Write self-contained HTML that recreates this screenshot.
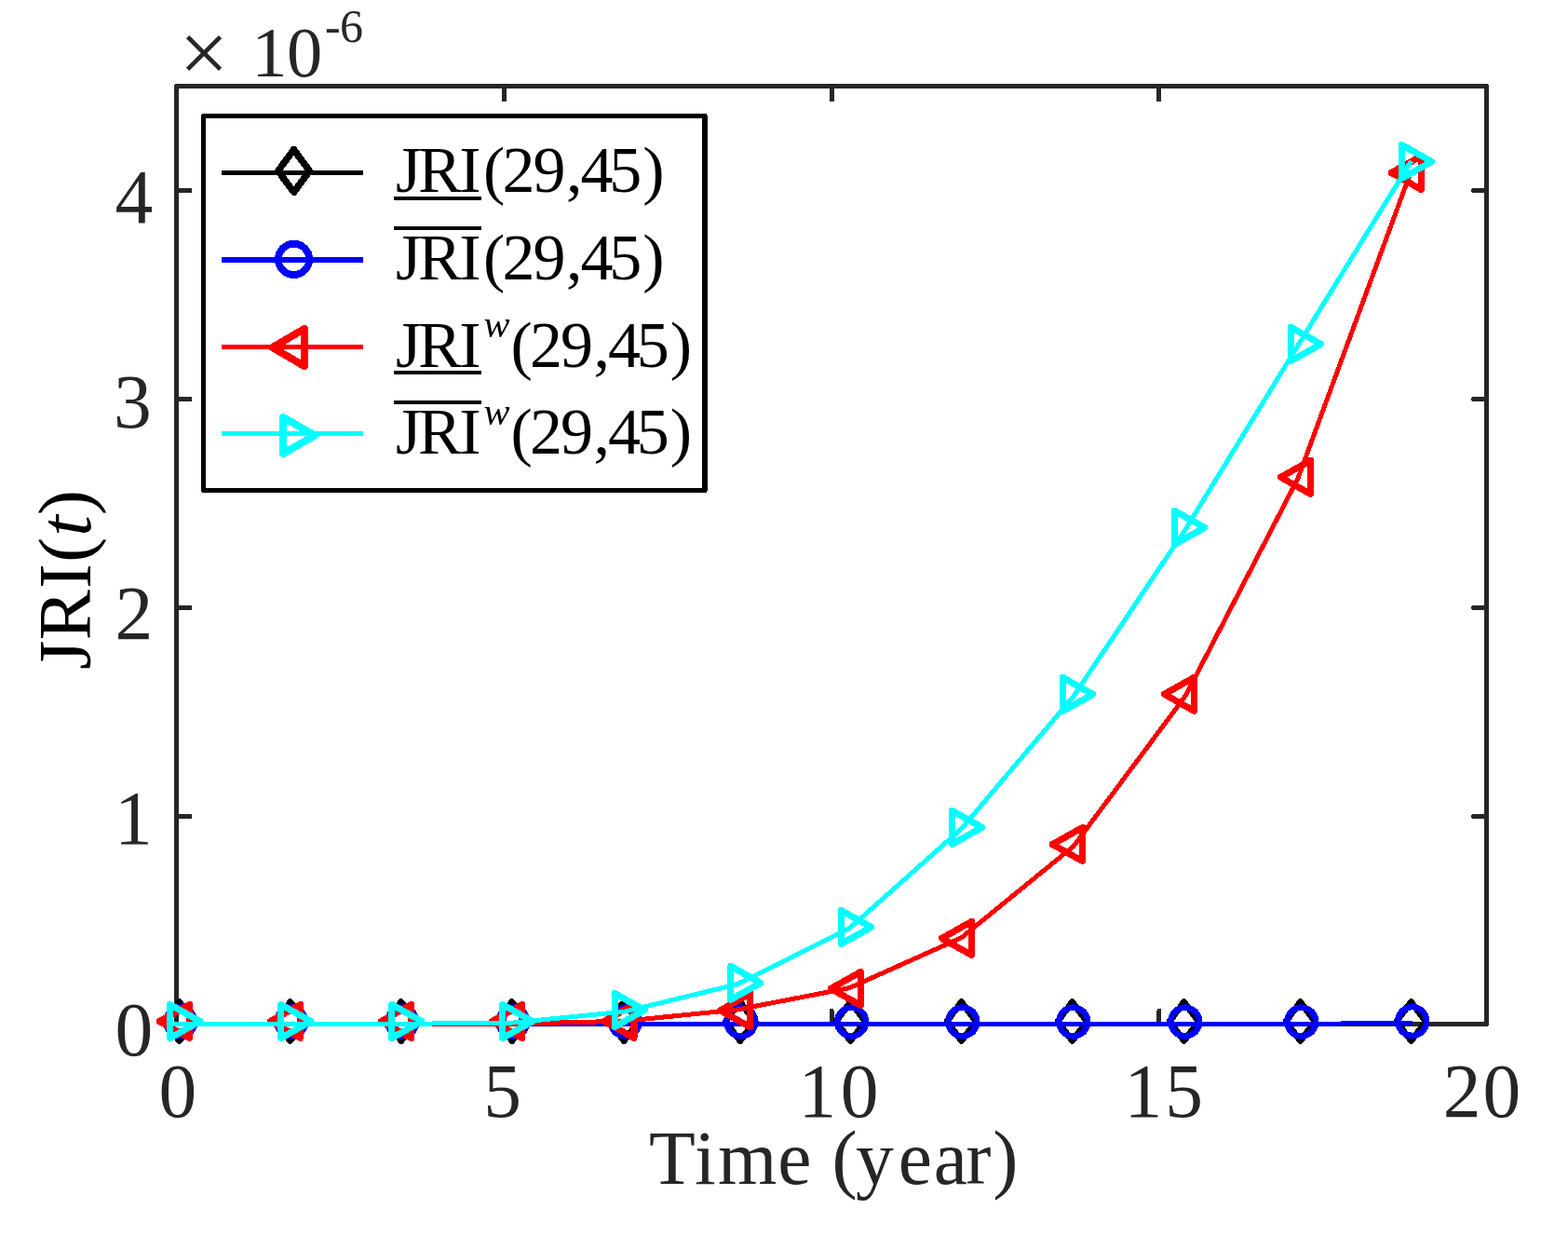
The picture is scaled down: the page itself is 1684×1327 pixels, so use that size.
<!DOCTYPE html>
<html lang="en"><head><meta charset="utf-8"><title>JRI(t) versus Time (year)</title>
<style>html,body{margin:0;padding:0;background:#fff}body{width:1684px;height:1327px;overflow:hidden}svg{display:block}text{font-family:'Liberation Serif', serif;white-space:pre;font-kerning:none}</style>
</head><body>
<svg width="1684" height="1327" viewBox="0 0 1684 1327" shape-rendering="crispEdges">
<rect x="0" y="0" width="1684" height="1327" fill="#fff"/>
<g fill="none" stroke="#262626" stroke-width="5" stroke-linecap="butt" stroke-linejoin="round">
<rect x="189.5" y="92.4" width="1407.1" height="1007"/>
<path d="M541.4 1099.4V1085.3" stroke-linecap="round"/>
<path d="M541.4 92.4V108.8"/>
<path d="M893.1 1099.4V1085.3" stroke-linecap="round"/>
<path d="M893.1 92.4V108.8"/>
<path d="M1244.9 1099.4V1085.3" stroke-linecap="round"/>
<path d="M1244.9 92.4V108.8"/>
<path d="M189.5 876.45H205.9"/>
<path d="M1596.6 876.45H1582.5" stroke-linecap="round"/>
<path d="M189.5 652.45H205.9"/>
<path d="M1596.6 652.45H1582.5" stroke-linecap="round"/>
<path d="M189.5 428.4H205.9"/>
<path d="M1596.6 428.4H1582.5" stroke-linecap="round"/>
<path d="M189.5 204.6H205.9"/>
<path d="M1596.6 204.6H1582.5" stroke-linecap="round"/>
</g>
<g fill="#262626" font-size="81.5">
<text x="170.5" y="1198.7">0</text>
<text x="519.3" y="1198.7">5</text>
<text x="857.6 902.7" y="1198.7">10</text>
<text x="1207.6 1251.2" y="1198.7">15</text>
<text x="1549.8 1592.6" y="1198.7">20</text>
<text x="123.4" y="1133.1">0</text>
<text x="123" y="906.4">1</text>
<text x="123.6" y="686.3">2</text>
<text x="121.9" y="458.7">3</text>
<text x="123.4" y="239.1">4</text>
<text x="192.6" y="87.6" font-size="94">×</text>
<text x="270.2 307.9" y="82.2" font-size="76.5">10</text>
<text x="349.1 365" y="45.4" font-size="50">-6</text>
<text x="697 745.9 771.1 835.2 874 893.6 918.9 964.7 1002.7 1037.2 1066.2" y="1271.2">Time (year)</text>
</g>
<text transform="translate(97.07 717.8) rotate(-90)" font-size="81" fill="#000" x="-1.15 30.6 85.9 114" y="0">JRI(<tspan font-style="italic" x="142.05">t</tspan><tspan x="164.8">)</tspan></text>
<polyline points="189.5,1099.45 309.94,1099.45 430.38,1099.45 550.82,1099.45 671.26,1099.45 791.7,1099.45 912.14,1099.45 1032.58,1099.45 1153.02,1099.45 1273.46,1099.45 1393.9,1099.45 1514.34,1098.3" fill="none" stroke="#000" stroke-width="5" stroke-linejoin="round" stroke-linecap="square"/>
<path d="M192.6 1075.55L208.1 1096.6L192.6 1117.65L177.1 1096.6Z" fill="none" stroke="#000" stroke-width="6.7" stroke-linejoin="round"/>
<path d="M311.7 1075.55L327.2 1096.6L311.7 1117.65L296.2 1096.6Z" fill="none" stroke="#000" stroke-width="6.7" stroke-linejoin="round"/>
<path d="M430.8 1075.55L446.3 1096.6L430.8 1117.65L415.3 1096.6Z" fill="none" stroke="#000" stroke-width="6.7" stroke-linejoin="round"/>
<path d="M549.8 1075.55L565.3 1096.6L549.8 1117.65L534.3 1096.6Z" fill="none" stroke="#000" stroke-width="6.7" stroke-linejoin="round"/>
<path d="M670.1 1075.55L685.6 1096.6L670.1 1117.65L654.6 1096.6Z" fill="none" stroke="#000" stroke-width="6.7" stroke-linejoin="round"/>
<path d="M794.8 1075.55L810.3 1096.6L794.8 1117.65L779.3 1096.6Z" fill="none" stroke="#000" stroke-width="6.7" stroke-linejoin="round"/>
<path d="M913.5 1075.55L929 1096.6L913.5 1117.65L898 1096.6Z" fill="none" stroke="#000" stroke-width="6.7" stroke-linejoin="round"/>
<path d="M1032.6 1075.55L1048.1 1096.6L1032.6 1117.65L1017.1 1096.6Z" fill="none" stroke="#000" stroke-width="6.7" stroke-linejoin="round"/>
<path d="M1151.6 1075.55L1167.1 1096.6L1151.6 1117.65L1136.1 1096.6Z" fill="none" stroke="#000" stroke-width="6.7" stroke-linejoin="round"/>
<path d="M1271.6 1075.55L1287.1 1096.6L1271.6 1117.65L1256.1 1096.6Z" fill="none" stroke="#000" stroke-width="6.7" stroke-linejoin="round"/>
<path d="M1396.6 1075.55L1412.1 1096.6L1396.6 1117.65L1381.1 1096.6Z" fill="none" stroke="#000" stroke-width="6.7" stroke-linejoin="round"/>
<path d="M1515.55 1075.55L1531.05 1096.6L1515.55 1117.65L1500.05 1096.6Z" fill="none" stroke="#000" stroke-width="6.7" stroke-linejoin="round"/>
<polyline points="189.5,1099.45 309.94,1099.45 430.38,1099.45 550.82,1099.45 671.26,1099.45 791.7,1099.45 912.14,1099.45 1032.58,1099.45 1153.02,1099.45 1273.46,1099.45 1393.9,1099.45 1514.34,1098.3" fill="none" stroke="#0000ff" stroke-width="5" stroke-linejoin="round" stroke-linecap="square"/>
<circle cx="193.7" cy="1097" r="15.4" fill="none" stroke="#0000ff" stroke-width="6.6"/>
<circle cx="312.8" cy="1097" r="15.4" fill="none" stroke="#0000ff" stroke-width="6.6"/>
<circle cx="431.9" cy="1097" r="15.4" fill="none" stroke="#0000ff" stroke-width="6.6"/>
<circle cx="550.9" cy="1097" r="15.4" fill="none" stroke="#0000ff" stroke-width="6.6"/>
<circle cx="671.2" cy="1097" r="15.4" fill="none" stroke="#0000ff" stroke-width="6.6"/>
<circle cx="795.9" cy="1097" r="15.4" fill="none" stroke="#0000ff" stroke-width="6.6"/>
<circle cx="914.6" cy="1097" r="15.4" fill="none" stroke="#0000ff" stroke-width="6.6"/>
<circle cx="1033.7" cy="1097" r="15.4" fill="none" stroke="#0000ff" stroke-width="6.6"/>
<circle cx="1152.7" cy="1097" r="15.4" fill="none" stroke="#0000ff" stroke-width="6.6"/>
<circle cx="1272.7" cy="1097" r="15.4" fill="none" stroke="#0000ff" stroke-width="6.6"/>
<circle cx="1397.7" cy="1097" r="15.4" fill="none" stroke="#0000ff" stroke-width="6.6"/>
<circle cx="1516.65" cy="1096.5" r="15.4" fill="none" stroke="#0000ff" stroke-width="6.6"/>
<polyline points="189.5,1099.4 309.94,1099.4 430.38,1099.4 550.82,1099.3 671.26,1096.2 791.7,1084 912.14,1060.7 1032.58,1006.7 1153.02,908.5 1273.46,746.7 1393.9,513.7 1514.34,186.9" fill="none" stroke="#ff0000" stroke-width="5" stroke-linejoin="round" stroke-linecap="square"/>
<path d="M203.45 1078.5L171.35 1096.5L203.45 1114.5Z" fill="none" stroke="#ff0000" stroke-width="7.1" stroke-linejoin="round"/>
<path d="M322.55 1078.5L290.45 1096.5L322.55 1114.5Z" fill="none" stroke="#ff0000" stroke-width="7.1" stroke-linejoin="round"/>
<path d="M441.65 1078.5L409.55 1096.5L441.65 1114.5Z" fill="none" stroke="#ff0000" stroke-width="7.1" stroke-linejoin="round"/>
<path d="M560.65 1078.5L528.55 1096.5L560.65 1114.5Z" fill="none" stroke="#ff0000" stroke-width="7.1" stroke-linejoin="round"/>
<path d="M680.95 1078.4L648.85 1096.4L680.95 1114.4Z" fill="none" stroke="#ff0000" stroke-width="7.1" stroke-linejoin="round"/>
<path d="M805.65 1066.8L773.55 1084.8L805.65 1102.8Z" fill="none" stroke="#ff0000" stroke-width="7.1" stroke-linejoin="round"/>
<path d="M924.35 1043.4L892.25 1061.4L924.35 1079.4Z" fill="none" stroke="#ff0000" stroke-width="7.1" stroke-linejoin="round"/>
<path d="M1043.45 989.4L1011.35 1007.4L1043.45 1025.4Z" fill="none" stroke="#ff0000" stroke-width="7.1" stroke-linejoin="round"/>
<path d="M1162.45 888.5L1130.35 906.5L1162.45 924.5Z" fill="none" stroke="#ff0000" stroke-width="7.1" stroke-linejoin="round"/>
<path d="M1282.45 727.3L1250.35 745.3L1282.45 763.3Z" fill="none" stroke="#ff0000" stroke-width="7.1" stroke-linejoin="round"/>
<path d="M1407.45 494.35L1375.35 512.35L1407.45 530.35Z" fill="none" stroke="#ff0000" stroke-width="7.1" stroke-linejoin="round"/>
<path d="M1526.4 167.5L1494.3 185.5L1526.4 203.5Z" fill="none" stroke="#ff0000" stroke-width="7.1" stroke-linejoin="round"/>
<polyline points="189.5,1099.4 309.94,1099.4 430.38,1099.4 550.82,1098 671.26,1086 791.7,1056.7 912.14,996.8 1032.58,889.7 1153.02,747.5 1273.46,567.8 1393.9,370.9 1514.34,175" fill="none" stroke="#00ffff" stroke-width="5" stroke-linejoin="round" stroke-linecap="square"/>
<path d="M182.55 1078.5L214.65 1096.5L182.55 1114.5Z" fill="none" stroke="#00ffff" stroke-width="7.1" stroke-linejoin="round"/>
<path d="M301.65 1078.5L333.75 1096.5L301.65 1114.5Z" fill="none" stroke="#00ffff" stroke-width="7.1" stroke-linejoin="round"/>
<path d="M420.75 1078.5L452.85 1096.5L420.75 1114.5Z" fill="none" stroke="#00ffff" stroke-width="7.1" stroke-linejoin="round"/>
<path d="M539.75 1078.5L571.85 1096.5L539.75 1114.5Z" fill="none" stroke="#00ffff" stroke-width="7.1" stroke-linejoin="round"/>
<path d="M660.05 1066.5L692.15 1084.5L660.05 1102.5Z" fill="none" stroke="#00ffff" stroke-width="7.1" stroke-linejoin="round"/>
<path d="M784.75 1037.3L816.85 1055.3L784.75 1073.3Z" fill="none" stroke="#00ffff" stroke-width="7.1" stroke-linejoin="round"/>
<path d="M903.45 977.4L935.55 995.4L903.45 1013.4Z" fill="none" stroke="#00ffff" stroke-width="7.1" stroke-linejoin="round"/>
<path d="M1022.55 870.3L1054.65 888.3L1022.55 906.3Z" fill="none" stroke="#00ffff" stroke-width="7.1" stroke-linejoin="round"/>
<path d="M1141.55 727.45L1173.65 745.45L1141.55 763.45Z" fill="none" stroke="#00ffff" stroke-width="7.1" stroke-linejoin="round"/>
<path d="M1261.55 548.4L1293.65 566.4L1261.55 584.4Z" fill="none" stroke="#00ffff" stroke-width="7.1" stroke-linejoin="round"/>
<path d="M1386.55 351.45L1418.65 369.45L1386.55 387.45Z" fill="none" stroke="#00ffff" stroke-width="7.1" stroke-linejoin="round"/>
<path d="M1505.5 155.5L1537.6 173.5L1505.5 191.5Z" fill="none" stroke="#00ffff" stroke-width="7.1" stroke-linejoin="round"/>
<rect x="218.5" y="124.45" width="538.5" height="402.05" fill="#fff" stroke="#000" stroke-width="5" stroke-linejoin="round"/>
<rect x="754" y="124.45" width="2" height="402.05" fill="#000"/>
<path d="M237.7 185.45H390" fill="none" stroke="#000" stroke-width="5"/>
<path d="M237.7 279H390" fill="none" stroke="#0000ff" stroke-width="6"/>
<path d="M237.7 372.45H390" fill="none" stroke="#ff0000" stroke-width="5"/>
<path d="M237.7 465.5H390" fill="none" stroke="#00ffff" stroke-width="5"/>
<path d="M315.55 160.6L332.4 183.5L315.55 206.4L298.7 183.5Z" fill="none" stroke="#000" stroke-width="7.4" stroke-linejoin="round"/>
<circle cx="315.55" cy="278.4" r="16.65" fill="none" stroke="#0000ff" stroke-width="7.8"/>
<path d="M327 353L292.55 373.05L327 393.1Z" fill="none" stroke="#ff0000" stroke-width="8" stroke-linejoin="round"/>
<path d="M304 447.9L338 467.5L304 487.1Z" fill="none" stroke="#00ffff" stroke-width="8" stroke-linejoin="round"/>
<g fill="#000" font-size="70">
<text x="425 449.1 493.3" y="206.4">JRI</text>
<text x="518.9 539.4 572.6 607.9 623.4 654.2 690.3" y="206.4">(29,45)</text>
<rect x="422.6" y="210.9" width="94.3" height="3.8"/>
<text x="425 449.1 493.3" y="300.2">JRI</text>
<text x="518.9 539.4 572.6 607.9 623.4 654.2 690.3" y="300.2">(29,45)</text>
<rect x="422.6" y="243.3" width="94.3" height="3.8"/>
<text x="425 449.1 493.3" y="393.5">JRI</text>
<text x="519.5" y="361.9" font-size="42" font-style="italic">w</text>
<text x="548.4 568.9 602.1 637.4 652.9 683.7 719.8" y="393.5">(29,45)</text>
<rect x="422.6" y="398" width="94.3" height="3.8"/>
<text x="425 449.1 493.3" y="487.2">JRI</text>
<text x="519.5" y="455.6" font-size="42" font-style="italic">w</text>
<text x="548.4 568.9 602.1 637.4 652.9 683.7 719.8" y="487.2">(29,45)</text>
<rect x="422.6" y="430.3" width="94.3" height="3.8"/>
</g>
</svg></body></html>
